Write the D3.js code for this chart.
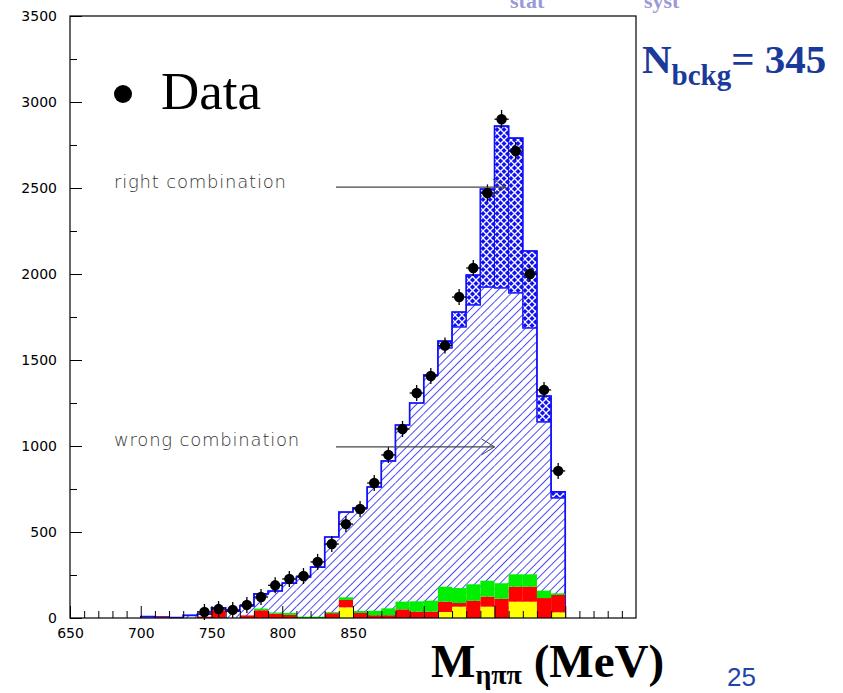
<!DOCTYPE html>
<html>
<head>
<meta charset="utf-8">
<script src="https://cdn.jsdelivr.net/npm/d3@7"></script>
<style>
  body { margin: 0; background: #fff; }
  svg { display: block; }
</style>
</head>
<body>
<div id="chart"></div>
<script>
// histogram bins (lower edge, MeV), 10 MeV wide
var binLow = [700, 710, 720, 730, 740, 750, 760, 770, 780, 790,
              800, 810, 820, 830, 840, 850, 860, 870, 880, 890,
              900, 910, 920, 930, 940, 950, 960, 970, 980, 990];
// MC wrong combination (hatched)
var wrongComb = [8, 5, 3, 15, 22, 60, 40, 70, 140, 157,
                 203, 238, 296, 471, 616, 640, 762, 913, 1122, 1250,
                 1413, 1570, 1692, 1820, 1924, 1919, 1890, 1686, 1140, 698];
// MC right combination (cross-hatched, stacked on wrong)
var rightComb = [0, 0, 0, 0, 0, 0, 0, 0, 0, 0,
                 0, 0, 0, 0, 0, 0, 0, 0, 0, 0,
                 0, 40, 87, 174, 570, 941, 900, 448, 150, 35];
// background components (stacked yellow, red, green)
var bkgYellow = [0, 0, 0, 0, 0, 0, 0, 0, 0, 0,
                 0, 0, 0, 0, 62, 0, 0, 0, 0, 0,
                 0, 35, 66, 0, 66, 0, 95, 95, 0, 33];
var bkgRed    = [0, 7, 0, 0, 8, 45, 0, 15, 45, 25,
                 18, 0, 0, 28, 43, 29, 16, 16, 50, 37,
                 37, 60, 21, 100, 58, 112, 87, 87, 116, 101];
var bkgGreen  = [0, 0, 0, 0, 0, 0, 0, 0, 10, 7,
                 12, 8, 8, 6, 15, 12, 26, 40, 45, 60,
                 64, 87, 87, 96, 93, 90, 72, 72, 43, 9];
// data points (bin centres, counts)
var dataMass   = [745, 755, 765, 775, 785, 795, 805, 815, 825, 835,
                  845, 855, 865, 875, 885, 895, 905, 915, 925, 935,
                  945, 955, 965, 975, 985, 995];
var dataCounts = [35, 52, 47, 76, 122, 190, 227, 244, 326, 430,
                  546, 634, 785, 948, 1099, 1308, 1407, 1584, 1866, 2035,
                  2471, 2900, 2715, 2000, 1326, 855];

var xTickLabels = [650, 700, 750, 800, 850];
var yTickLabels = [0, 500, 1000, 1500, 2000, 2500, 3000, 3500];

var binW = 10;
var W = 843, H = 693;

var svg = d3.select("#chart").append("svg")
    .attr("width", W).attr("height", H);

var x = d3.scaleLinear().domain([650, 1050]).range([70, 636]);
var y = d3.scaleLinear().domain([0, 3500]).range([618, 16]);

// patterns
var defs = svg.append("defs");
var hatch = defs.append("pattern")
    .attr("id", "hatch").attr("patternUnits", "userSpaceOnUse")
    .attr("width", 5.8).attr("height", 5.8)
    .attr("patternTransform", "rotate(45)");
hatch.append("rect").attr("width", 5.8).attr("height", 5.8).attr("fill", "#fff");
hatch.append("line").attr("x1", 0).attr("y1", 0).attr("x2", 0).attr("y2", 5.8)
    .attr("stroke", "#1f1ff0").attr("stroke-width", 1.6);

var cross = defs.append("pattern")
    .attr("id", "cross").attr("patternUnits", "userSpaceOnUse")
    .attr("width", 7).attr("height", 7);
cross.append("rect").attr("width", 7).attr("height", 7).attr("fill", "#1010f0");
cross.append("path").attr("d", "M0,0 L7,7 M7,0 L0,7")
    .attr("stroke", "#fff").attr("stroke-width", 1.3).attr("fill", "none");

var bins = binLow.map(function(b, i) {
  return {lo: b, wrong: wrongComb[i], right: rightComb[i],
          yel: bkgYellow[i], red: bkgRed[i], grn: bkgGreen[i]};
});

// wrong combination (hatched)
svg.append("g").selectAll("rect").data(bins).join("rect")
    .attr("x", function(d) { return x(d.lo); })
    .attr("width", function(d) { return x(d.lo + binW) - x(d.lo); })
    .attr("y", function(d) { return y(d.wrong); })
    .attr("height", function(d) { return y(0) - y(d.wrong); })
    .attr("fill", "url(#hatch)");

// right combination (cross-hatched)
svg.append("g").selectAll("rect").data(bins.filter(function(d) { return d.right > 0; })).join("rect")
    .attr("x", function(d) { return x(d.lo); })
    .attr("width", function(d) { return x(d.lo + binW) - x(d.lo); })
    .attr("y", function(d) { return y(d.wrong + d.right); })
    .attr("height", function(d) { return y(d.wrong) - y(d.wrong + d.right); })
    .attr("fill", "url(#cross)")
    .attr("stroke", "#1010f0").attr("stroke-width", 1);

// step outlines
function stepPts(vals) {
  var pts = [[binLow[0], 0]];
  bins.forEach(function(d, i) { pts.push([d.lo, vals[i]]); pts.push([d.lo + binW, vals[i]]); });
  pts.push([binLow[binLow.length - 1] + binW, 0]);
  return pts;
}
var line = d3.line().x(function(d) { return x(d[0]); }).y(function(d) { return y(d[1]); });
svg.append("path").datum(stepPts(wrongComb)).attr("d", line)
    .attr("fill", "none").attr("stroke", "#2020ff").attr("stroke-width", 1.2);
svg.append("path").datum(stepPts(bins.map(function(d) { return d.wrong + d.right; }))).attr("d", line)
    .attr("fill", "none").attr("stroke", "#1010ff").attr("stroke-width", 1.6);

// background stack
var bkg = svg.append("g");
[["yel", 0, "#ffff00"], ["red", 1, "#ff0000"], ["grn", 2, "#00ee00"]].forEach(function(c) {
  bkg.selectAll("rect." + c[0]).data(bins.filter(function(d) { return d[c[0]] > 0; })).join("rect")
      .attr("class", c[0])
      .attr("x", function(d) { return x(d.lo); })
      .attr("width", function(d) { return x(d.lo + binW) - x(d.lo); })
      .attr("y", function(d) {
        var base = c[1] === 0 ? 0 : (c[1] === 1 ? d.yel : d.yel + d.red);
        return y(base + d[c[0]]);
      })
      .attr("height", function(d) { return y(0) - y(d[c[0]]); })
      .attr("fill", c[2]);
});

// frame
svg.append("rect").attr("x", 70).attr("y", 16).attr("width", 566).attr("height", 602)
    .attr("fill", "none").attr("stroke", "#000").attr("stroke-width", 1.2);

// axes (ticks point inward)
svg.append("g").attr("transform", "translate(70,0)")
    .call(d3.axisLeft(y).tickValues(yTickLabels).tickFormat(d3.format("d"))
      .tickSizeInner(-12).tickSizeOuter(0).tickPadding(13));
svg.append("g").attr("transform", "translate(70,0)")
    .call(d3.axisLeft(y).tickValues(d3.range(250, 3500, 500)).tickSizeInner(-7).tickSizeOuter(0).tickFormat(""));
svg.append("g").attr("transform", "translate(0,618)")
    .call(d3.axisBottom(x).tickValues(xTickLabels).tickFormat(d3.format("d"))
      .tickSizeInner(-12).tickSizeOuter(0).tickPadding(10));
svg.append("g").attr("transform", "translate(0,618)")
    .call(d3.axisBottom(x).tickValues(d3.range(660, 1050, 10).filter(function(v) { return v % 50 !== 0; }))
      .tickSizeInner(-7).tickSizeOuter(0).tickFormat(""));
svg.append("g").attr("transform", "translate(0,618)")
    .call(d3.axisBottom(x).tickValues([900, 950, 1000]).tickSizeInner(-12).tickSizeOuter(0).tickFormat(""));
svg.selectAll(".domain").remove();
svg.selectAll(".tick line").attr("stroke", "#000");
svg.selectAll(".tick text").attr("font-family", "DejaVu Sans").attr("font-size", 14).attr("fill", "#000");

// data points with error bars
var pts = svg.append("g").selectAll("g").data(dataMass.map(function(m, i) { return [m, dataCounts[i]]; }))
  .join("g");
pts.append("line")
    .attr("x1", function(d) { return x(d[0]); }).attr("x2", function(d) { return x(d[0]); })
    .attr("y1", function(d) { return Math.min(y(d[1] + Math.sqrt(d[1])), y(d[1]) - 8); })
    .attr("y2", function(d) { return Math.max(y(d[1] - Math.sqrt(d[1])), y(d[1]) + 8); })
    .attr("stroke", "#000").attr("stroke-width", 1.3);
pts.append("line")
    .attr("x1", function(d) { return x(d[0] - binW / 2); }).attr("x2", function(d) { return x(d[0] + binW / 2); })
    .attr("y1", function(d) { return y(d[1]); }).attr("y2", function(d) { return y(d[1]); })
    .attr("stroke", "#000").attr("stroke-width", 1.3);
pts.append("circle")
    .attr("cx", function(d) { return x(d[0]); }).attr("cy", function(d) { return y(d[1]); })
    .attr("r", 5.2).attr("fill", "#000");

// legend
svg.append("circle").attr("cx", 123).attr("cy", 94).attr("r", 9).attr("fill", "#000");
svg.append("text").attr("x", 161).attr("y", 109).text("Data")
    .attr("font-family", "Liberation Serif").attr("font-size", 53).attr("fill", "#000");

// annotations
var ann = [["right combination", 188, 838, 958, 2505], ["wrong combination", 446, 838, 950, 995]];
ann.forEach(function(a) {
  svg.append("text").attr("x", 114).attr("y", a[1]).text(a[0])
      .attr("font-family", "DejaVu Sans").attr("font-size", 18).attr("fill", "#333")
      .attr("font-weight", 300).attr("letter-spacing", 0.8);
  var x1 = x(a[2]), x2 = x(a[3]), yy = y(a[4]);
  svg.append("line").attr("x1", x1).attr("x2", x2).attr("y1", yy).attr("y2", yy)
      .attr("stroke", "#444").attr("stroke-width", 1.4);
  svg.append("path").attr("d", "M" + (x2 - 13) + "," + (yy - 8) + "L" + x2 + "," + yy + "L" + (x2 - 13) + "," + (yy + 8))
      .attr("fill", "none").attr("stroke", "#444").attr("stroke-width", 1);
});

// N_bckg label
var nb = svg.append("text").attr("x", 642).attr("y", 73)
    .attr("font-family", "Liberation Serif").attr("font-weight", "bold")
    .attr("font-size", 41).attr("fill", "#1a3a9a");
nb.append("tspan").text("N");
nb.append("tspan").attr("dy", 12).attr("font-size", 29).text("bckg");
nb.append("tspan").attr("dy", -12).text("= 345");

// x axis title
var xt = svg.append("text").attr("x", 431).attr("y", 677)
    .attr("font-family", "Liberation Serif").attr("font-weight", "bold")
    .attr("font-size", 47).attr("fill", "#000");
xt.append("tspan").text("M");
xt.append("tspan").attr("dy", 7).attr("font-size", 28).text("ηππ");
xt.append("tspan").attr("dy", -7).text(" (MeV)");

// page number
svg.append("text").attr("x", 727).attr("y", 686).text("25")
    .attr("font-family", "Liberation Sans").attr("font-size", 26).attr("fill", "#1f45a8");

// header line cut at the top edge (only the subscripts show, as on the slide)
svg.append("text").attr("x", 510).attr("y", 8).text("stat")
    .attr("font-family", "Liberation Serif").attr("font-weight", "bold")
    .attr("font-size", 22).attr("fill", "#9a9ad8");
svg.append("text").attr("x", 644).attr("y", 8).text("syst")
    .attr("font-family", "Liberation Serif").attr("font-weight", "bold")
    .attr("font-size", 22).attr("fill", "#9a9ad8");
</script>
</body>
</html>
